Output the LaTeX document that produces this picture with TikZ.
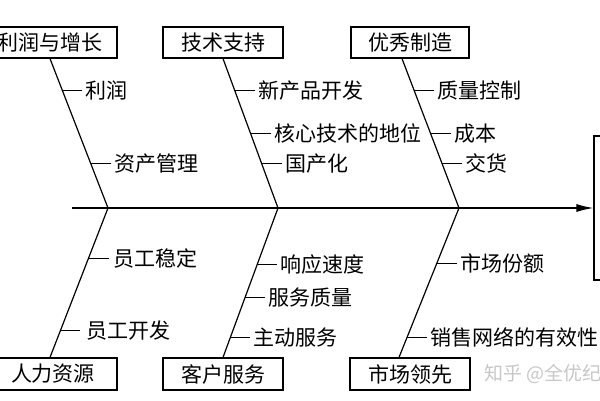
\documentclass[tikz,border=0pt]{standalone}
\usepackage{fontspec}
\setmainfont{Noto Sans CJK SC}
\usetikzlibrary{arrows.meta,calc,positioning}
\tikzset{
  cause/.style={draw,line width=1.2pt,minimum width=120pt,minimum height=31pt,inner sep=0pt,font=\fontsize{21}{24}\selectfont},
  bone/.style={line width=1.2pt},
  sub/.style={anchor=west,inner sep=3pt,font=\fontsize{21}{24}\selectfont},
}
\begin{document}
\begin{tikzpicture}[x=1pt,y=-1pt]
\clip (0,0) rectangle (600,400);
% cause boxes
\node[cause,minimum width=134pt] (profit) at (50,42.5) {利润与增长};
\node[cause] (tech) at (223,42.5) {技术支持};
\node[cause,minimum width=118pt] (mfg) at (410,42.5) {优秀制造};
\node[cause,minimum width=128pt,minimum height=32pt] (hr) at (53,374) {人力资源};
\node[cause,minimum height=32pt] (service) at (223,374) {客户服务};
\node[cause,minimum height=32pt] (market) at (410,374) {市场领先};
\node[draw,line width=1.2pt,minimum width=56pt,minimum height=144pt] (effect) at (622,208) {};
% spine
\coordinate (s) at (72,208);
\coordinate (j1) at (108,208);
\coordinate (j2) at (278,208);
\coordinate (j3) at (459,208);
\draw[bone,-{Latex[length=17pt,width=8pt]}] (s) -- (effect.west);
\draw[bone] (profit.south) -- (j1) -- ([xshift=-3pt]hr.north);
\draw[bone] (tech.south) -- (j2) -- (service.north);
\draw[bone] ([xshift=-8pt]mfg.south) -- (j3) -- ([xshift=-11pt]market.north);
% sub causes
\foreach \t/\txt [count=\i] in {0.213/利润,0.7/资产管理}
  \draw[bone] ($(profit.south)!\t!(j1)$) -- ++(20,0) node[sub] (profit-\i) {\txt};
\foreach \t/\txt [count=\i] in {0.213/新产品开发,0.5/核心技术的地位,0.7/国产化}
  \draw[bone] ($(tech.south)!\t!(j2)$) -- ++(20,0) node[sub] (tech-\i) {\txt};
\foreach \t/\txt [count=\i] in {0.213/质量控制,0.5/成本,0.7/交货}
  \draw[bone] ($([xshift=-8pt]mfg.south)!\t!(j3)$) -- ++(20,0) node[sub] (mfg-\i) {\txt};
\foreach \t/\txt [count=\i] in {0.664/员工稳定,0.18/员工开发}
  \draw[bone] ($([xshift=-3pt]hr.north)!\t!(j1)$) -- ++(20,0) node[sub,xshift=\i==1?8pt:0pt] (hr-\i) {\txt};
\foreach \t/\txt [count=\i] in {0.62/响应速度,0.4/服务质量,0.134/主动服务}
  \draw[bone] ($(service.north)!\t!(j2)$) -- ++(20,0) node[sub] (service-\i) {\txt};
\foreach \t/\txt [count=\i] in {0.63/市场份额,0.134/销售网络的有效性}
  \draw[bone] ($([xshift=-11pt]market.north)!\t!(j3)$) -- ++(20,0) node[sub] (market-\i) {\txt};
% watermark
\node[anchor=west,inner sep=0pt,text=black!22,font=\fontsize{19}{22}\selectfont] (mark) at (484,374) {知乎 @全优纪};
\end{tikzpicture}
\end{document}
